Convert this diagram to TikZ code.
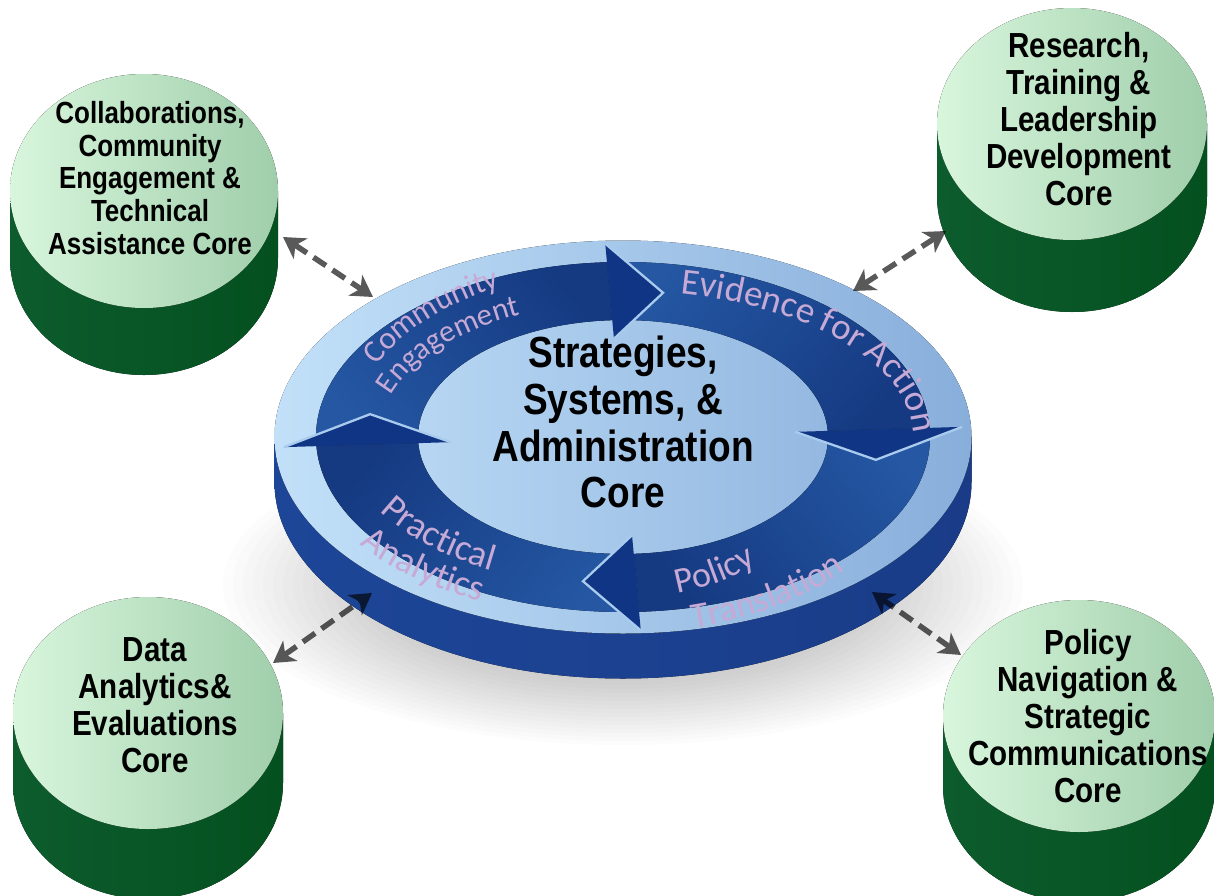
\documentclass[tikz,border=0pt]{standalone}
\usepackage{fontspec}
\usetikzlibrary{arrows.meta,decorations.text}

\newfontfamily\corefont{Liberation Sans}[FakeStretch=0.85]
\newfontfamily\ringfont{Carlito}

% disc colours
\definecolor{faceL}{HTML}{C2E0F8}
\definecolor{faceR}{HTML}{88AEDB}
\definecolor{sideE}{HTML}{1D4698}
\definecolor{sideM}{HTML}{4676C4}
\definecolor{sideD}{HTML}{1A3C88}
\definecolor{bandL}{HTML}{2557A3}
\definecolor{bandD}{HTML}{153A82}
\definecolor{headC}{HTML}{113585}
\definecolor{headEdge}{HTML}{A9CBEE}
\definecolor{ringTxt}{HTML}{C6AAD5}
% cylinder colours
\definecolor{gTopL}{HTML}{D8F6DC}
\definecolor{gTopR}{HTML}{A0CEAB}
\definecolor{gSideE}{HTML}{0D5C2D}
\definecolor{gSideM}{HTML}{4F8D6D}
\definecolor{gSideD}{HTML}{04501F}

% green cylinder: centre x, centre y of top face, x radius, y radius, depth
\newcommand{\greencyl}[5]{%
  \fill[left color=gSideE, middle color=gSideM, right color=gSideD]
    (#1-#3,#2) -- (#1-#3,#2+#5)
    arc[start angle=180, end angle=0, x radius=#3, y radius=#4]
    -- (#1+#3,#2)
    arc[start angle=0, end angle=180, x radius=#3, y radius=#4] -- cycle;
  \fill[left color=gTopL, right color=gTopR] (#1,#2) ellipse[x radius=#3, y radius=#4];
}

\begin{document}
\begin{tikzpicture}[x=0.02cm, y=-0.02cm,
  cyltext/.style={align=center, inner sep=0pt, text=black,
    font=\corefont\bfseries\fontsize{19.8}{21.1}\selectfont},
  link/.style={line width=3.1pt, dash pattern=on 8.5pt off 4.5pt, black,
    <->, >={Stealth[length=12pt, width=14pt, inset=3.5pt]}},
  ringlabel/.style 2 args={decorate, decoration={text along path,
    text color=ringTxt, text={|\ringfont\fontsize{#2}{#2}\selectfont|#1}}}
]
\useasboundingbox (0,0) rectangle (1214,896);

% soft shadow under the disc, built from faint stacked ellipses
\foreach \k in {0,...,24}
  \fill[black, opacity=0.0105] (623,585) ellipse[x radius={400-10*\k}, y radius={160-4*\k}];

% ---- central disc ----
\begin{scope}[shift={(623,437)}]
  % side wall
  \fill[left color=sideE, middle color=sideM, right color=sideD]
    (-348.5,0) -- (-348.5,45)
    arc[start angle=180, end angle=0, x radius=348.5, y radius=196.5]
    -- (348.5,0)
    arc[start angle=0, end angle=180, x radius=348.5, y radius=196.5] -- cycle;
  % top face
  \fill[left color=faceL, right color=faceR] (0,0) ellipse[x radius=348.5, y radius=196.5];

  % cycle arrows: bodies first (darkening toward the head), then heads on top
  \foreach \s/\ang in {177/130, 267/50, 357/310, 447/230} {
    \pgfmathsetmacro{\b}{\s+90}
    \fill[left color=bandL, right color=bandD, shading angle=\ang] (\s:307 and 175)
      arc[start angle=\s, end angle=\b, x radius=307, y radius=175]
      -- (\b:205 and 117)
      arc[start angle=\b, end angle=\s, x radius=205, y radius=117] -- cycle;
  }
  \foreach \s [evaluate=\s as \b using {\s+90}, evaluate=\s as \e using {\s+102}] in {177,267,357,447} {
    \fill[headC] (\b:172.5 and 98.4) -- (\e:256 and 146) -- (\b:339.5 and 193.6) -- cycle;
    \draw[headEdge, line width=1.3pt, line join=miter]
      (\b:172.5 and 98.4) -- (\e:256 and 146) -- (\b:339.5 and 193.6);
  }

  % curved labels on the cycle
  \path[ringlabel={Community}{18}] (205:272 and 168.5)
    arc[start angle=205, end angle=280, x radius=272, y radius=168.5];
  \path[ringlabel={Engagement}{17.5}] (198:244 and 135)
    arc[start angle=198, end angle=280, x radius=244, y radius=135];
  \path[ringlabel={Evidence for Action}{21}] (281.4:290 and 146)
    arc[start angle=281.4, end angle=385, x radius=290, y radius=146];
  \path[ringlabel={Practical}{21}] (150.7:279 and 151.6)
    arc[start angle=150.7, end angle=60, x radius=279, y radius=151.6];
  \path[ringlabel={Analytics}{21}] (143.9:326 and 182.75)
    arc[start angle=143.9, end angle=60, x radius=326, y radius=182.75];
  \path[ringlabel={Policy}{20.5}] (75.4:215 and 162)
    arc[start angle=75.4, end angle=0, x radius=215, y radius=162];
  \path[ringlabel={Translation}{20.5}] (76.5:301.5 and 197)
    arc[start angle=76.5, end angle=0, x radius=301.5, y radius=197];
\end{scope}

\node[align=center, inner sep=0pt,
  font=\corefont\bfseries\fontsize{24.8}{26.7}\selectfont] (core) at (623,422)
  {Strategies,\\Systems, \&\\Administration\\Core};

% ---- surrounding cores ----
\greencyl{144}{191}{134}{117}{67}
\greencyl{1072}{124}{135}{116}{72}
\greencyl{148}{713}{135}{116}{70}
\greencyl{1079}{716}{136}{116}{70}

\node[cyltext, font=\corefont\bfseries\fontsize{17.4}{18.7}\selectfont] (collab) at (150,178)
  {Collaborations,\\Community\\Engagement \&\\Technical\\Assistance Core};
\node[cyltext] (research) at (1079,119)
  {Research,\\Training \&\\Leadership\\Development\\Core};
\node[cyltext] (data) at (155,705)
  {Data\\Analytics\&\\Evaluations\\Core};
\node[cyltext] (navigation) at (1088,716)
  {Policy\\Navigation \&\\Strategic\\Communications\\Core};

% ---- two-way links between the cores and the disc ----
\coordinate (tlA) at (283,237);  \coordinate (tlB) at (373,297);
\coordinate (trA) at (946,231);  \coordinate (trB) at (853,291);
\coordinate (blA) at (273,663);  \coordinate (blB) at (372,593);
\coordinate (brA) at (961,655);  \coordinate (brB) at (872,592);
\begin{scope}[transparency group, opacity=0.65]
  \draw[link] (tlA) -- (tlB);
  \draw[link] (trA) -- (trB);
  \draw[link] (blA) -- (blB);
  \draw[link] (brA) -- (brB);
\end{scope}
\end{tikzpicture}
\end{document}
